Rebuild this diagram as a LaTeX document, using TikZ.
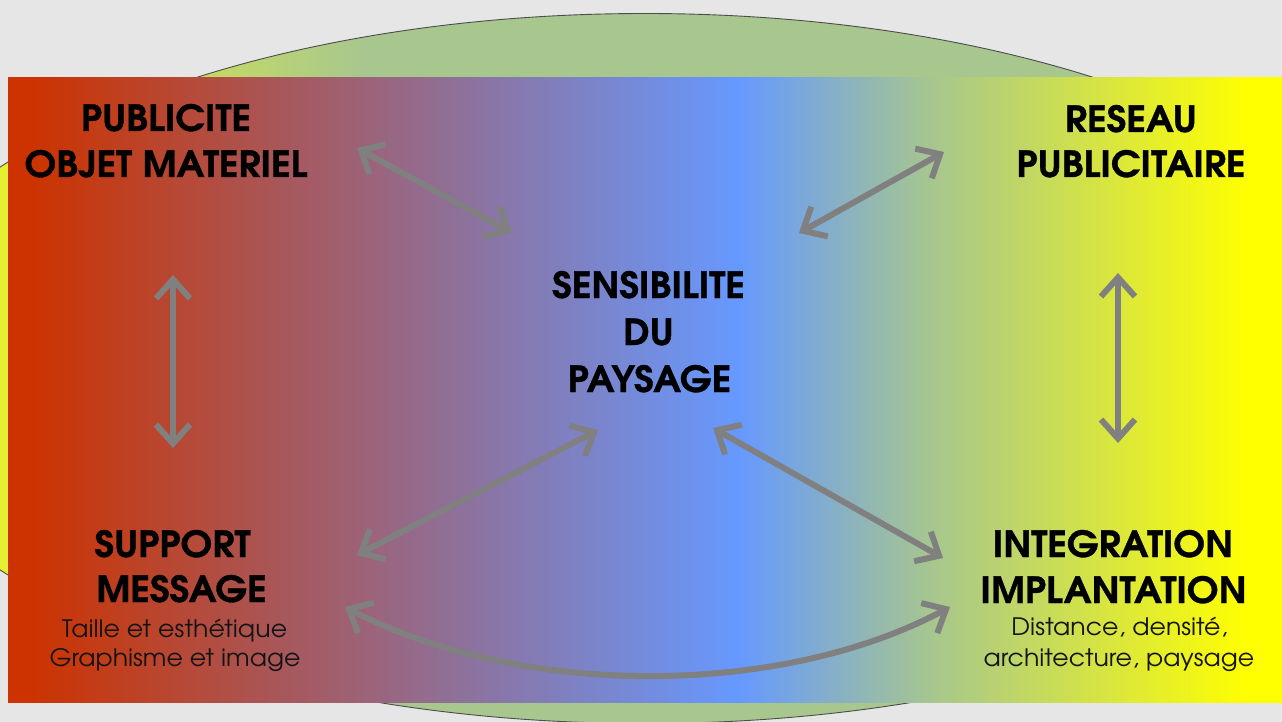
\documentclass[tikz,border=0pt]{standalone}
\usepackage{fontspec}
\setmainfont{texgyreadventor}[Extension=.otf, UprightFont=*-regular, BoldFont=*-bold]
\newfontfamily\bigfam{texgyreadventor}[Extension=.otf, UprightFont=*-bold, FakeStretch=1.05, FakeBold=0.9]
\newfontfamily\smallfam{texgyreadventor}[Extension=.otf, UprightFont=*-regular, FakeStretch=1.05]
\usetikzlibrary{arrows.meta}
\definecolor{bgc}{HTML}{E6E6E6}
\definecolor{cRed}{HTML}{CC3300}
\definecolor{cBlue}{HTML}{6699FF}
\definecolor{cGreen}{HTML}{A8C78C}
\definecolor{cYellow}{HTML}{FFFF00}
\definecolor{eY}{HTML}{E6F032}
\definecolor{eG}{HTML}{A8C78E}
\definecolor{arrgray}{HTML}{808080}
\pgfdeclarehorizontalshading{rectshade}{100bp}{color(0bp)=(cRed); color(25.9bp)=(cRed); color(53.7bp)=(cBlue); color(61.4bp)=(cGreen); color(73.7bp)=(cYellow); color(100bp)=(cYellow)}
\pgfdeclarehorizontalshading{ellshade}{100bp}{color(0bp)=(eY); color(30bp)=(eY); color(41bp)=(eG); color(100bp)=(eG)}
\tikzset{
  bigtxt/.style={anchor=base, inner sep=0pt, font=\bigfam\fontsize{36}{42}\selectfont, text=black},
  smalltxt/.style={anchor=base, inner sep=0pt, font=\smallfam\fontsize{24}{28}\selectfont, text=black!92},
  biarrow/.style={draw=arrgray, line width=6pt, {Straight Barb[length=19pt,width=34pt]}-{Straight Barb[length=19pt,width=34pt]}}
}
\begin{document}
\begin{tikzpicture}[x=1pt,y=-1pt]
\useasboundingbox (0,0) rectangle (1282,722);
\clip (0,0) rectangle (1282,722);
\fill[bgc] (0,0) rectangle (1282,722);
\shade[shading=ellshade, draw=black!70, line width=0.9pt] (645,368.5) ellipse [x radius=783, y radius=355];
\shade[shading=rectshade] (8,78) rectangle (1282,702);

% texts
\node[bigtxt] (pub1) at (166,131) {PUBLICITE};
\node[bigtxt] (pub2) at (166,177) {OBJET MATERIEL};
\node[bigtxt] (res1) at (1131,132) {RESEAU};
\node[bigtxt] (res2) at (1131,177) {PUBLICITAIRE};
\node[bigtxt] (sen1) at (648.5,298) {SENSIBILITE};
\node[bigtxt] (sen2) at (648.5,345) {DU};
\node[bigtxt] (sen3) at (649.5,392) {PAYSAGE};
\node[bigtxt] (sup1) at (172.5,557) {SUPPORT};
\node[bigtxt] (sup2) at (181.5,602) {MESSAGE};
\node[smalltxt] (sup3) at (174.5,637) {Taille et esthétique};
\node[smalltxt] (sup4) at (175,666) {Graphisme et image};
\node[bigtxt] (int1) at (1113,557) {INTEGRATION};
\node[bigtxt] (int2) at (1113.5,603) {IMPLANTATION};
\node[smalltxt] (int3) at (1119.5,635) {Distance, densité,};
\node[smalltxt] (int4) at (1119,666) {architecture, paysage};

% arrow ends
\coordinate (a1s) at (357,148);
\coordinate (a1e) at (512,233);
\coordinate (a2s) at (944,152);
\coordinate (a2e) at (799,233);
\coordinate (a3s) at (173,275);
\coordinate (a3e) at (173,448);
\coordinate (a4s) at (1118,273);
\coordinate (a4e) at (1118,443);
\coordinate (a5s) at (357,555);
\coordinate (a5e) at (598,430);
\coordinate (a6s) at (713,428);
\coordinate (a6e) at (943,558);
\coordinate (a7s) at (345,607);
\coordinate (a7e) at (950,607);

\draw[biarrow] (a1s) -- (a1e);
\draw[biarrow] (a2s) -- (a2e);
\draw[biarrow] (a3s) -- (a3e);
\draw[biarrow] (a4s) -- (a4e);
\draw[biarrow] (a5s) -- (a5e);
\draw[biarrow] (a6s) -- (a6e);
\draw[biarrow] (a7s) .. controls (520,698) and (780,698) .. (a7e);
\end{tikzpicture}
\end{document}
